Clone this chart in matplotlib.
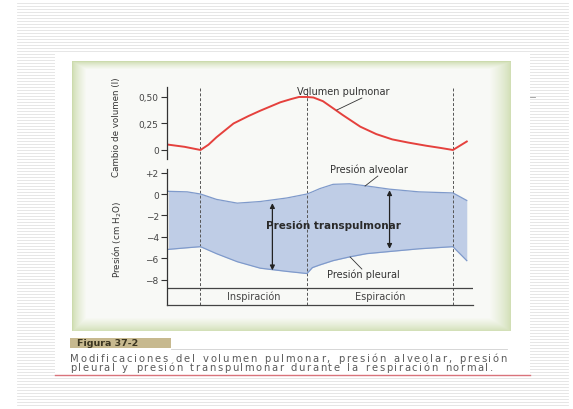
import numpy as np
import matplotlib.pyplot as plt
from matplotlib.patches import Rectangle
from matplotlib.lines import Line2D

# volume curve (time units, litres)
t_vol = [-0.6, -0.3, 0.0, 0.15, 0.3, 0.62, 0.9, 1.12, 1.5, 1.7, 1.85, 2.0, 2.12,
         2.3, 2.5, 2.67, 3.0, 3.3, 3.6, 3.9, 4.24, 4.5, 4.74, 5.0]
vol = [0.05, 0.03, 0.0, 0.05, 0.12, 0.25, 0.32, 0.37, 0.45, 0.48, 0.5, 0.5, 0.495,
       0.46, 0.39, 0.33, 0.22, 0.15, 0.10, 0.07, 0.04, 0.02, 0.0, 0.08]

# pressures (cm H2O)
t_p = [-0.6, -0.25, 0.0, 0.3, 0.69, 1.12, 1.62, 2.0, 2.1, 2.24, 2.49, 2.8, 3.12,
       3.55, 4.1, 4.74, 5.0]
alv = [0.25, 0.2, 0.0, -0.5, -0.85, -0.7, -0.37, 0.0, 0.2, 0.5, 0.9, 0.95, 0.75,
       0.45, 0.2, 0.1, -0.6]
pleu = [-5.15, -5.0, -4.9, -5.55, -6.3, -6.9, -7.2, -7.4, -6.85, -6.6, -6.2, -5.85,
        -5.55, -5.35, -5.1, -4.9, -6.2]

phase_t = [0.0, 2.0, 4.74]
vol_ticks = [0, 0.25, 0.5]
vol_labels = ['0', '0,25', '0,50']
p_ticks = [2, 0, -2, -4, -6, -8]
p_labels = ['+2', '0', '\u22122', '\u22124', '\u22126', '\u22128']
caption = ['Modificaciones del volumen pulmonar, presión alveolar, presión',
           'pleural y presión transpulmonar durante la respiración normal.']

W, H = 573, 410
fig = plt.figure(figsize=(W / 100, H / 100), dpi=100)
fig.patch.set_facecolor('white')


def fx(x):
    return x / W


def fy(y):
    return 1 - y / H


def box(x0, y0, x1, y1):
    return [fx(x0), fy(y1), (x1 - x0) / W, (y1 - y0) / H]


def hline(x0, x1, y, z=1, **kw):
    fig.add_artist(Line2D([fx(x0), fx(x1)], [fy(y), fy(y)], transform=fig.transFigure,
                          zorder=z, **kw))


# striped slide background
for y in np.arange(4, 407, 3):
    hline(17, 568, y, z=-10, color='#e2e2e2', lw=0.6)
fig.add_artist(Rectangle((fx(55), fy(377)), (530 - 55) / W, (377 - 55) / H,
                         transform=fig.transFigure, facecolor='white', edgecolor='none',
                         zorder=-9))
hline(530, 535, 98, z=-8, color='#999999', lw=0.6)

# greenish panel with soft edge
pan = fig.add_axes(box(72, 62, 510, 332))
pan.set_zorder(-5)
pan.axis('off')
ph, pw = 270, 438
yy, xx = np.mgrid[0:ph, 0:pw]
d = np.minimum.reduce([xx / 14.0, (pw - xx) / 22.0, yy / 8.0, (ph - yy) / 14.0])
k = np.clip(d, 0, 1)[..., None] ** 0.7
edge = np.array([0.80, 0.86, 0.68])
center = np.array([0.975, 0.98, 0.965])
img = edge * (1 - k) + center * k
pan.imshow(img, aspect='auto', extent=[0, 1, 0, 1])

# charts
xl = (-0.629, 5.117)
ax1 = fig.add_axes(box(167, 88, 473, 160))
ax2 = fig.add_axes(box(167, 160, 473, 306))
for ax in (ax1, ax2):
    ax.set_facecolor('none')
    ax.set_xlim(xl)
    for s in ('top', 'right'):
        ax.spines[s].set_visible(False)
    ax.spines['left'].set_color('#333333')
    ax.spines['left'].set_linewidth(0.9)
    ax.set_xticks([])
    ax.tick_params(axis='y', length=4, width=0.8, color='#333333',
                   labelsize=6.5, labelcolor='#444444', pad=2)
    for t in phase_t:
        ax.axvline(t, color='#555555', lw=0.7, ls=(0, (3, 2)))

ax1.spines['bottom'].set_visible(False)
ax1.set_ylim(-0.085, 0.594)
ax1.set_yticks(vol_ticks)
ax1.set_yticklabels(vol_labels)
ax1.plot(t_vol, vol, color='#e5413d', lw=1.4)
ax1.text(1.81, 0.557, 'Volumen pulmonar', fontsize=7, color='#333333', va='center')
ax1.plot([3.03, 2.56], [0.49, 0.377], color='#333333', lw=0.6)

ax2.set_ylim(-10.326, 3.256)
ax2.spines['left'].set_bounds(-10.326, 2.33)
ax2.spines['bottom'].set_color('#444444')
ax2.spines['bottom'].set_linewidth(0.9)
ax2.set_yticks(p_ticks)
ax2.set_yticklabels(p_labels)
ax2.fill_between(t_p, pleu, alv, color='#bfcde6', lw=0)
ax2.plot(t_p, alv, color='#7f9acb', lw=0.9)
ax2.plot(t_p, pleu, color='#7f9acb', lw=0.9)
ax2.axhline(-8.7, color='#444444', lw=0.9)

arr = dict(arrowstyle='<|-|>', color='#222222', lw=0.9, mutation_scale=7, shrinkA=0, shrinkB=0)
ax2.annotate('', xy=(1.35, -0.85), xytext=(1.35, -7.1), arrowprops=arr)
ax2.annotate('', xy=(3.55, 0.35), xytext=(3.55, -5.1), arrowprops=arr)
ax2.text(2.49, -2.9, 'Presión transpulmonar', ha='center', va='center',
         fontsize=7.5, fontweight='bold', color='#2a2a2a')
ax2.text(2.43, 2.33, 'Presión alveolar', fontsize=7, color='#333333', va='center')
ax2.plot([3.33, 3.09], [1.67, 0.74], color='#333333', lw=0.6)
ax2.text(2.38, -7.44, 'Presión pleural', fontsize=7, color='#333333', va='center')
ax2.plot([3.03, 2.81], [-6.98, -5.86], color='#333333', lw=0.6)
ax2.text(1.0, -9.45, 'Inspiración', ha='center', va='center', fontsize=7, color='#444444')
ax2.text(3.37, -9.45, 'Espiración', ha='center', va='center', fontsize=7, color='#444444')

narrow = ['Liberation Sans Narrow', 'DejaVu Sans']
fig.text(fx(117), fy(127), 'Cambio de volumen (l)', rotation=90, ha='center', va='center',
         fontsize=6.3, family=narrow, color='#333333')
fig.text(fx(117), fy(240), 'Presión (cm H$_2$O)', rotation=90, ha='center', va='center',
         fontsize=6.3, family=narrow, color='#333333')

# caption
fig.add_artist(Rectangle((fx(70), fy(349)), 101 / W, 10 / H, transform=fig.transFigure,
                         facecolor='#c7b98f', edgecolor='none', zorder=1))
fig.text(fx(77), fy(344), 'Figura 37-2', fontsize=6.8, fontweight='bold',
         color='#3b3520', va='center')
hline(171, 507, 349.5, color='#d0d0d0', lw=0.6)

# letter-spaced caption lines (the scan is widely tracked)
rend = fig.canvas.get_renderer()
for line, ypix, xend in zip(caption, [359.5, 368.5], [507, 493]):
    arts = [fig.text(0, fy(ypix), ch, fontsize=7.2, color='#5a5a5a', va='center')
            for ch in line]
    widths = [a.get_window_extent(rend).width if ch != ' ' else 4.5
              for a, ch in zip(arts, line)]
    track = (xend - 70 - sum(widths)) / (len(line) - 1)
    x = 70
    for a, wd in zip(arts, widths):
        a.set_x(fx(x))
        x += wd + track
hline(55, 530, 375.5, color='#d9737b', lw=1.0)

fig.savefig('out.png', dpi=100)
